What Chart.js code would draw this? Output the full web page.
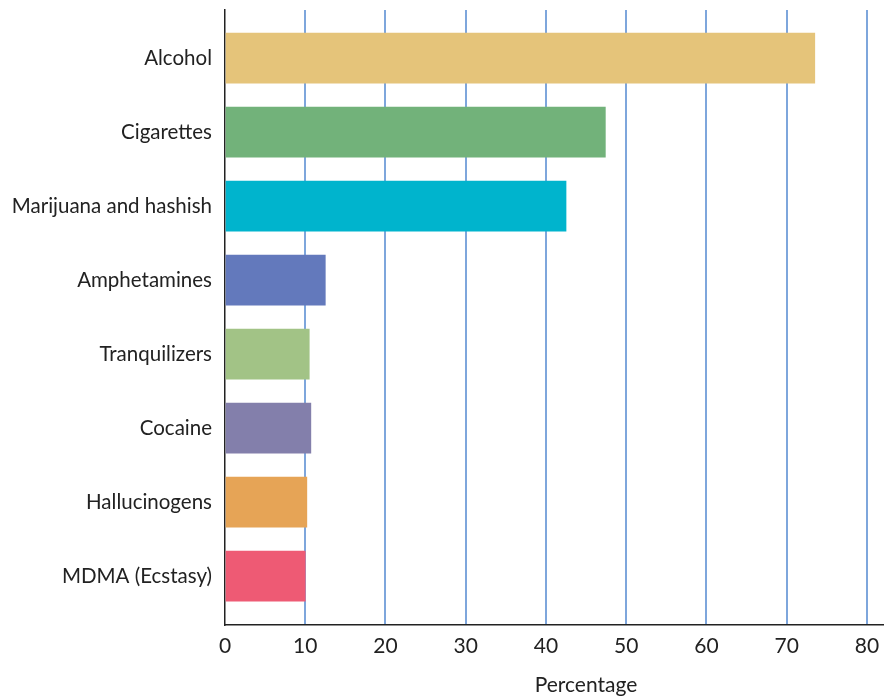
<!DOCTYPE html>
<html lang="en">
<head>
    <meta charset="UTF-8">
    <title>Substance use</title>
    <script src="https://cdn.jsdelivr.net/npm/chart.js"></script>
    <style>
        html, body { margin: 0; padding: 0; background: #fff; }
        #wrap { position: relative; width: 884px; height: 698px; }
        #xtitle {
            position: absolute; left: 486px; width: 200px; top: 671px;
            text-align: center; font: 21px Lato, sans-serif; color: #222;
        }
    </style>
</head>
<body>
    <div id="wrap">
        <canvas id="chart" width="884" height="698"></canvas>
        <div id="xtitle">Percentage</div>
    </div>

    <script>
        const categories = ['Alcohol', 'Cigarettes', 'Marijuana and hashish', 'Amphetamines',
            'Tranquilizers', 'Cocaine', 'Hallucinogens', 'MDMA (Ecstasy)'];
        const percentages = [73.5, 47.4, 42.5, 12.5, 10.5, 10.7, 10.2, 10.0];
        const barColors = ['#e5c47a', '#72b27a', '#00b4cd', '#6379bc',
            '#a2c386', '#837fab', '#e6a456', '#ee5a74'];
        const xTicks = [0, 10, 20, 30, 40, 50, 60, 70, 80];

        const ctx = document.getElementById('chart').getContext('2d');

        new Chart(ctx, {
            type: 'bar',
            data: {
                datasets: [{
                    data: percentages.map((v, i) => ({ x: v, y: i })),
                    backgroundColor: barColors,
                    borderWidth: 0,
                    barThickness: 50
                }]
            },
            options: {
                indexAxis: 'y',
                responsive: false,
                animation: false,
                layout: { padding: { top: 10, right: 1, left: 0, bottom: 0 } },
                plugins: {
                    legend: { display: false },
                    tooltip: { enabled: false }
                },
                scales: {
                    x: {
                        type: 'linear',
                        min: 0,
                        max: 82,
                        offset: false,
                        afterBuildTicks: (scale) => {
                            scale.ticks = xTicks.map(v => ({ value: v }));
                        },
                        afterFit: (scale) => {
                            scale.height = 73;
                            scale.paddingLeft = 0;
                            scale.paddingRight = 0;
                        },
                        grid: {
                            color: (c) => c.tick && c.tick.value === 0 ? 'rgba(0,0,0,0)' : '#7ea6dc',
                            lineWidth: 2,
                            drawTicks: false
                        },
                        border: { color: '#222', width: 1.5 },
                        ticks: {
                            padding: 9,
                            color: '#222',
                            font: { family: 'Lato', size: 21 }
                        }
                    },
                    y: {
                        type: 'linear',
                        reverse: true,
                        min: -0.65,
                        max: 7.66,
                        offset: false,
                        afterBuildTicks: (scale) => {
                            scale.ticks = categories.map((c, i) => ({ value: i }));
                        },
                        afterFit: (scale) => {
                            scale.width = 225;
                            scale.paddingTop = 0;
                            scale.paddingBottom = 0;
                        },
                        grid: { display: false, drawTicks: false },
                        border: { color: '#222', width: 1.5 },
                        ticks: {
                            padding: 13,
                            color: '#222',
                            font: { family: 'Lato', size: 20.5 },
                            callback: (v) => categories[v]
                        }
                    }
                }
            }
        });
    </script>
</body>
</html>
